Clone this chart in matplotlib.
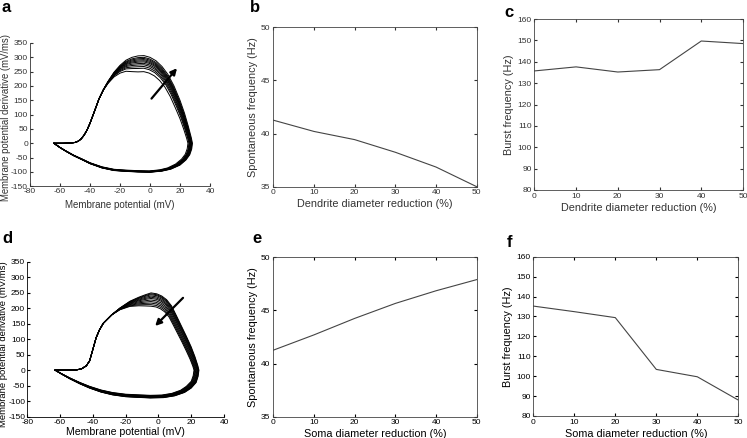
import numpy as np
import matplotlib.pyplot as plt

plt.rcParams['font.family'] = 'Liberation Sans'
plt.rcParams['axes.unicode_minus'] = False

# reduction in diameter (%)
reduction = [0, 10, 20, 30, 40, 50]
spont_dendrite = [41.26, 40.2, 39.43, 38.24, 36.85, 35.0]
burst_dendrite = [135.7, 137.6, 135.2, 136.3, 149.7, 148.5]
spont_soma = [41.26, 42.7, 44.25, 45.66, 46.85, 47.9]
burst_soma = [135.2, 132.4, 129.4, 103.4, 99.7, 88.0]

# outermost phase-plane loop of panel a: V (mV), dV/dt (mV/ms)
loop_a_v = [-64, -58, -53, -50, -48, -46, -44, -42, -40, -37, -34, -31, -28, -24, -20,
            -16, -12, -8, -4, 0, 4, 8, 12, 16, 20, 23, 25.5, 27.5, 28.3, 27.8, 26.5,
            24, 20, 14, 8, 0, -8, -16, -24, -32, -40, -45, -51, -56, -60, -64]
loop_a_dv = [0, 0, 1, 3, 7, 15, 28, 46, 70, 112, 155, 188, 216, 248, 272,
             290, 300, 305, 306, 300, 288, 268, 240, 200, 150, 105, 60, 20, 0, -20, -40,
             -58, -76, -90, -97, -101, -100, -98, -95, -86, -71, -58, -43, -28, -15, 0]
peaks_a = [250, 262, 268, 274, 279, 284, 288, 292, 296, 300, 306]

# outermost phase-plane loop of panel d
loop_d_v = [-63, -56, -50, -47, -44, -42, -40.7, -38, -36, -33.6, -28.5, -23.5, -17.4,
            -12, -8, -4.5, -1, 2, 5, 8, 11, 14, 17, 20, 22.3, 24, 24.7, 24.2, 23,
            20, 16, 10, 3, -5, -13, -20, -28, -35, -42, -48, -54, -59, -63]
loop_d_dv = [0, 0, 1, 4, 14, 30, 54, 105, 130, 152, 179, 201, 223,
             236, 244, 250, 247, 240, 228, 208, 176, 143, 110, 75, 43, 15, 0, -20, -40,
             -58, -72, -83, -89, -90, -88, -86, -80, -71, -58, -44, -28, -13, 0]
peaks_d = [207, 212, 217, 222, 227, 232, 236, 240, 244, 247, 250]


def loop_family(v, dv, peaks, v_on, shift_max, bottom_k):
    v = np.array(v, float)
    dv = np.array(dv, float)
    top = np.arange(len(v)) <= np.argmax(v)
    s_min = min(peaks) / max(peaks)
    out = []
    for p in peaks:
        s = p / max(peaks)
        w_up = np.clip((v - v_on) / 22, 0, 1)
        scale = np.where(top, 1 - w_up * (1 - s), 1 - bottom_k * (1 - s))
        w_sh = np.clip((v + 5) / 25, 0, 1)
        shift = w_sh * shift_max * (1 - s) / (1 - s_min)
        out.append((v - shift, dv * scale))
    return out


def phase_axes(ax, curves, arrow_from, arrow_to, col):
    for cv, cdv in curves:
        ax.plot(cv, cdv, color='k', lw=0.7)
    ax.annotate('', xy=arrow_to, xytext=arrow_from,
                arrowprops=dict(arrowstyle='-|>', color='k', lw=1.6,
                                mutation_scale=9, shrinkA=0, shrinkB=0))
    ax.set_xlim(-80, 40)
    ax.set_ylim(-150, 350)
    ax.set_xticks(range(-80, 41, 20))
    ax.set_yticks(range(-150, 351, 50))
    for sp in ['top', 'right']:
        ax.spines[sp].set_visible(False)
    ax.tick_params(direction='in', length=2.5, labelsize=6, pad=1.5, colors=col)
    for sp in ['left', 'bottom']:
        ax.spines[sp].set_color(col)
        ax.spines[sp].set_linewidth(0.6)


def line_axes(ax, y, ylim, yticks, xlabel, ylabel, col):
    ax.plot(reduction, y, color='#444444', lw=0.8)
    ax.set_xlim(0, 50)
    ax.set_ylim(*ylim)
    ax.set_xticks(reduction)
    ax.set_yticks(yticks)
    ax.tick_params(direction='in', length=2.5, labelsize=6, pad=2,
                   top=True, right=True, colors=col)
    for sp in ax.spines.values():
        sp.set_color('#444444')
        sp.set_linewidth(0.6)
    ax.set_xlabel(xlabel, fontsize=7.8, labelpad=2, color=col)
    ax.set_ylabel(ylabel, fontsize=7.8, labelpad=2, color=col)


W, H = 747, 438
fig = plt.figure(figsize=(W / 100, H / 100), dpi=100)


def add_ax(x0, y0, x1, y1):
    return fig.add_axes([x0 / W, 1 - y1 / H, (x1 - x0) / W, (y1 - y0) / H])


ax_a = add_ax(30, 43, 210, 186.3)
ax_b = add_ax(273.3, 27.3, 476.7, 186.7)
ax_c = add_ax(534.3, 19, 743, 190)
ax_d = add_ax(27.3, 262, 224, 416.5)
ax_e = add_ax(273.3, 257.3, 476.7, 416.7)
ax_f = add_ax(533.3, 256.7, 738.3, 416)

top_col = '#333333'
phase_axes(ax_a, loop_family(loop_a_v, loop_a_dv, peaks_a, -32, 3.0, 0.25),
           (1, 156), (18, 262), top_col)
ax_a.set_xlabel('Membrane potential (mV)', fontsize=7, labelpad=3, color=top_col)
ax_a.set_ylabel('Membrane potential derivative (mV/ms)', fontsize=6.9, color=top_col)
ax_a.yaxis.set_label_coords(-0.108, 0.48)

phase_axes(ax_d, loop_family(loop_d_v, loop_d_dv, peaks_d, -27, 3.0, 0.55),
           (15, 234), (-2, 143), 'k')
ax_d.set_xlabel('Membrane potential (mV)', fontsize=7.6, labelpad=1)
ax_d.set_ylabel('Membrane potential derivative (mV/ms)', fontsize=6.8)
ax_d.yaxis.set_label_coords(-0.096, 0.47)

line_axes(ax_b, spont_dendrite, (35, 50), [35, 40, 45, 50],
          'Dendrite diameter reduction (%)', 'Spontaneous frequency (Hz)', top_col)
line_axes(ax_c, burst_dendrite, (80, 160), range(80, 161, 10),
          'Dendrite diameter reduction (%)', 'Burst frequency (Hz)', top_col)
line_axes(ax_e, spont_soma, (35, 50), [35, 40, 45, 50],
          'Soma diameter reduction (%)', 'Spontaneous frequency (Hz)', 'k')
line_axes(ax_f, burst_soma, (80, 160), range(80, 161, 10),
          'Soma diameter reduction (%)', 'Burst frequency (Hz)', 'k')

for lab, x, y in [('a', 1, 12.3), ('b', 250, 12.3), ('c', 504, 16.7),
                  ('d', 2, 243), ('e', 252, 243), ('f', 507, 246.7)]:
    fig.text(x / W, 1 - y / H, lab, fontsize=12, fontweight='bold', va='baseline')

fig.savefig('out.png', dpi=100)
